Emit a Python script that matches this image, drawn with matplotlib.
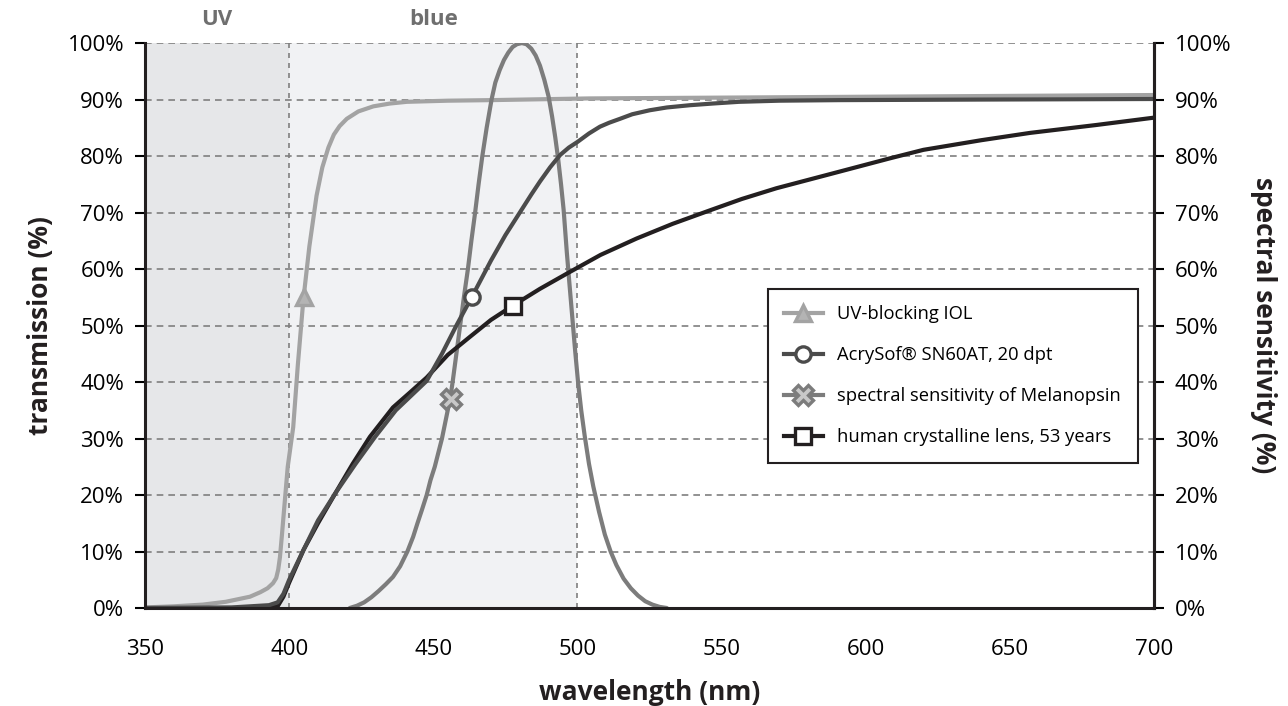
import matplotlib
matplotlib.use("Agg")
import matplotlib.pyplot as plt
from matplotlib.lines import Line2D
from matplotlib.ticker import FuncFormatter

plt.rcParams["font.family"] = ["Open Sans", "DejaVu Sans"]

# UV-blocking IOL
uv_nm = [350, 360, 370, 378, 386.4, 390, 392.5, 394.4, 395.5, 396.2, 396.8, 397.5, 398.5, 399.5,
         401.4, 403, 404.9, 407, 409.5, 411.5, 413.6, 415.5, 417.5, 420, 424, 429.2, 435,
         440.8, 455, 470, 504, 600, 700]
uv_tr = [0.1, 0.3, 0.6, 1.1, 2, 2.8, 3.5, 4.4, 5.3, 6.8, 9, 13, 19, 25,
         32, 43, 54.5, 64, 73, 78, 81.5, 83.8, 85.3, 86.6, 87.9, 88.8, 89.3,
         89.6, 89.8, 89.9, 90.2, 90.5, 90.8]
uv_mark = (405, 55)

# AcrySof SN60AT, 20 dpt
acry_nm = [350, 380, 393, 396, 398, 400, 405, 410, 416, 423, 429.8, 437, 447.7, 453, 458,
           463.3, 470, 475, 480, 484, 487, 490.5, 494, 497, 500, 504, 507.8, 511, 514.8,
           519, 525, 531, 539, 547, 556, 570, 591, 640, 700]
acry_tr = [0, 0.1, 0.5, 1, 2.5, 5, 10.3, 15.5, 20.3, 25.5, 30.3, 35, 40.2, 45, 50,
           55, 61.5, 66, 70, 73.2, 75.5, 78, 80.2, 81.5, 82.5, 84, 85.2, 85.9, 86.6,
           87.4, 88.1, 88.6, 89, 89.3, 89.6, 89.8, 89.9, 90, 90.1]
acry_mark = (463.3, 55)

# spectral sensitivity of Melanopsin
mel_nm = [421, 423.5, 426, 428.5, 431, 433.5, 436, 438.5, 441, 443, 444.5, 446, 447.7, 449,
          450.5, 452, 453, 454, 455, 456, 456.7, 458, 459.3, 460.6, 462, 463.2, 464.5,
          465.7, 467, 468.5, 470.2, 471.5, 473, 474.5, 476, 477.5, 479, 480.7, 482.3, 484,
          485.5, 487, 488.5, 490, 491.2, 492.3, 493.3, 494.3, 495.2, 496.3, 497.2, 498.2,
          499.2, 500.2, 501.3, 502.5, 504, 505.5, 507.5, 509.5, 511.5, 513.5, 516, 518.5,
          521, 523.5, 526, 528.5, 531]
mel_sens = [0, 0.4, 1, 1.9, 3, 4.2, 5.5, 7.4, 10, 12.6, 15, 17.3, 20, 22.6,
            25, 28, 30, 32.5, 35, 37.6, 40, 45, 50, 55, 60, 65, 70,
            75, 80, 85, 90, 93, 95.2, 97, 98.3, 99.3, 99.8, 100, 99.8, 99,
            97.8, 96, 93.5, 90.5, 87, 83.3, 79.5, 75, 70.5, 63, 57.5, 51.5,
            45.5, 40, 35, 30.5, 25.5, 21.5, 17, 13, 10, 7.6, 5.2, 3.5,
            2.2, 1.2, 0.6, 0.2, 0]
mel_mark = (456, 37)

# human crystalline lens, 53 years
lens_nm = [350, 390, 396, 398, 400, 405, 410, 416, 422, 428, 436, 442, 447.7, 455, 462.7, 470,
           477.5, 487, 497.4, 508, 520.5, 533, 546, 557, 569, 587.6, 598, 608.4, 620, 640,
           657, 680, 700]
lens_tr = [0, 0, 0.3, 2, 4.5, 10.3, 15, 20.3, 25.5, 30.3, 35.5, 38.2, 40.8, 44.8, 48, 51,
           53.5, 56.5, 59.5, 62.5, 65.4, 68, 70.4, 72.4, 74.3, 76.8, 78.2, 79.6, 81.1, 82.8,
           84.1, 85.5, 86.8]
lens_mark = (477.5, 53.5)

x_ticks = [350, 400, 450, 500, 550, 600, 650, 700]
y_ticks = [0, 10, 20, 30, 40, 50, 60, 70, 80, 90, 100]

C_UV = "#a3a3a3"
C_ACRY = "#4b4b4b"
C_MEL = "#7c7c7c"
C_LENS = "#231f20"
LW = 3.0

fig = plt.figure(figsize=(12.88, 7.06), dpi=100)
ax = fig.add_axes([0.1126, 0.1388, 0.7834, 0.8002])

# UV / blue bands
ax.axvspan(350, 400, color="#e6e7e9", zorder=0, lw=0)
ax.axvspan(400, 500, color="#f1f2f4", zorder=0, lw=0)
for xv in (400, 500):
    ax.axvline(xv, color="#7f7f7f", ls=(0, (3, 3)), lw=1.2, zorder=1)
for yv in y_ticks[1:]:
    ax.axhline(yv, color="#7f7f7f", ls=(0, (4, 3)), lw=1.2, zorder=1)

ax.plot(uv_nm, uv_tr, color=C_UV, lw=LW, zorder=3, solid_capstyle="round", solid_joinstyle="round")
ax.plot(mel_nm, mel_sens, color=C_MEL, lw=LW, zorder=4, solid_capstyle="round", solid_joinstyle="round")
ax.plot(lens_nm, lens_tr, color=C_LENS, lw=LW, zorder=5, solid_capstyle="round", solid_joinstyle="round")
ax.plot(acry_nm, acry_tr, color=C_ACRY, lw=LW, zorder=6, solid_capstyle="round", solid_joinstyle="round")

mk = dict(ls="none", ms=11, mew=2.4, zorder=8)
ax.plot(*uv_mark, marker="^", mfc="#b4b4b4", mec=C_UV, **mk)
ax.plot(*acry_mark, marker="o", mfc="white", mec=C_ACRY, **mk)
ax.plot(*mel_mark, marker="X", mfc="#c8c8c8", mec=C_MEL, **dict(mk, ms=14))
ax.plot(*lens_mark, marker="s", mfc="white", mec=C_LENS, **mk)

ax.set_xlim(350, 700)
ax.set_ylim(0, 100)
ax.set_xticks(x_ticks)
ax.set_yticks(y_ticks)
pct = FuncFormatter(lambda v, p: f"{v:.0f}%")
ax.yaxis.set_major_formatter(pct)
ax.tick_params(axis="x", length=0, labelsize=16, pad=22)
ax.tick_params(axis="y", length=7, width=1.5, direction="out", labelsize=16, pad=8)
ax.spines["top"].set_visible(False)
for s in ("left", "right", "bottom"):
    ax.spines[s].set_linewidth(2.2)
    ax.spines[s].set_color("#231f20")
    ax.spines[s].set_zorder(7)

ax2 = ax.twinx()
ax2.set_ylim(0, 100)
ax2.set_yticks(y_ticks)
ax2.yaxis.set_major_formatter(pct)
ax2.tick_params(axis="y", length=7, width=1.5, direction="out", labelsize=16, pad=8)
for s in ("top", "left", "bottom"):
    ax2.spines[s].set_visible(False)
ax2.spines["right"].set_linewidth(2.2)
ax2.spines["right"].set_color("#231f20")

lab = dict(fontsize=19, fontweight="bold", color="#231f20")
ax.set_xlabel("wavelength (nm)", labelpad=14, **lab)
ax.set_ylabel("transmission (%)", labelpad=10, **lab)
ax2.set_ylabel("spectral sensitivity (%)", rotation=270, labelpad=33, **lab)

ax.text(375, 104.2, "UV", ha="center", va="center", fontsize=16, fontweight="bold", color="#6f6f6f")
ax.text(450, 104.2, "blue", ha="center", va="center", fontsize=16, fontweight="bold", color="#6f6f6f")

handles = [
    Line2D([], [], color=C_UV, lw=LW, marker="^", ms=11, mfc="#b4b4b4", mec=C_UV, mew=2.4),
    Line2D([], [], color=C_ACRY, lw=LW, marker="o", ms=11, mfc="white", mec=C_ACRY, mew=2.4),
    Line2D([], [], color=C_MEL, lw=LW, marker="X", ms=14, mfc="#c8c8c8", mec=C_MEL, mew=2.4),
    Line2D([], [], color=C_LENS, lw=LW, marker="s", ms=11, mfc="white", mec=C_LENS, mew=2.4),
]
labels = ["UV-blocking IOL", "AcrySof® SN60AT, 20 dpt",
          "spectral sensitivity of Melanopsin", "human crystalline lens, 53 years"]
leg = ax2.legend(handles, labels, loc="upper left", bbox_to_anchor=(0.596, 0.591),
                 bbox_transform=fig.transFigure, fontsize=13.2, numpoints=1, handlelength=2.1,
                 labelspacing=1.25, borderpad=0.9, handletextpad=0.8, borderaxespad=0,
                 fancybox=False, framealpha=1, edgecolor="#231f20")
leg.get_frame().set_linewidth(1.5)

fig.savefig("out.png", dpi=100)
